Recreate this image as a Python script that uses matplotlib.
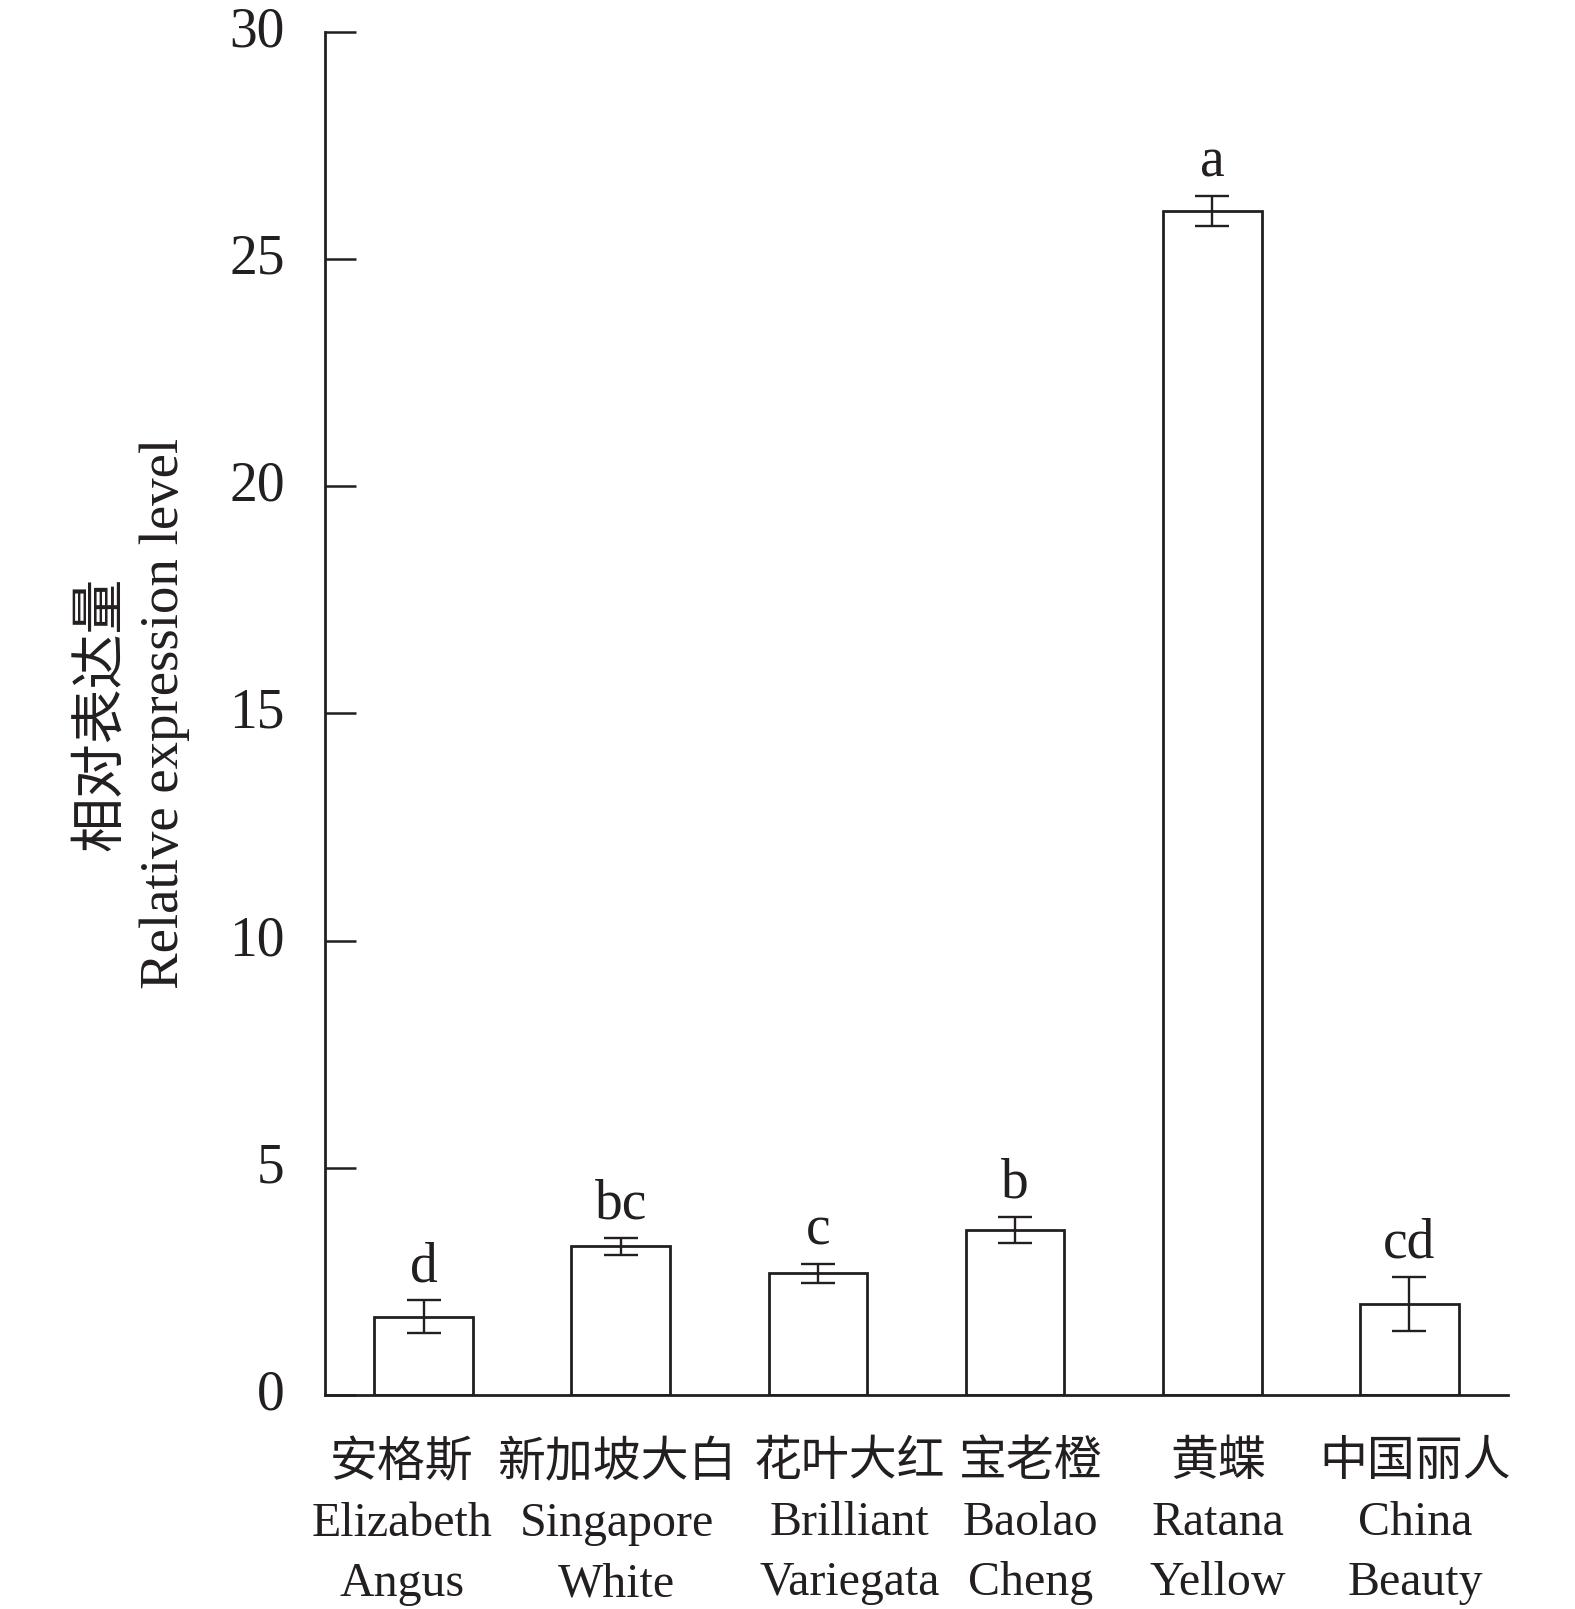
import numpy as np
import matplotlib
matplotlib.use("Agg")
import matplotlib.pyplot as plt
from matplotlib.transforms import ScaledTranslation

plt.rcParams['font.family'] = ['Liberation Serif', 'Noto Sans CJK SC', 'DejaVu Sans']

cultivars_cn = ['安格斯', '新加坡大白', '花叶大红', '宝老橙', '黄蝶', '中国丽人']
cultivars_en = ['Elizabeth\nAngus', 'Singapore\nWhite', 'Brilliant\nVariegata',
                'Baolao\nCheng', 'Ratana\nYellow', 'China\nBeauty']
expression = [1.72, 3.27, 2.68, 3.63, 26.06, 2.00]
errors = [0.36, 0.18, 0.21, 0.28, 0.33, 0.59]
letters = ['d', 'bc', 'c', 'b', 'a', 'cd']

# small horizontal nudges of the category labels (data units), as in the original
label_shift = [-0.11, -0.02, 0.16, 0.08, 0.03, 0.03]

ink = '#231f20'

fig = plt.figure(figsize=(15.75, 16.09), dpi=100)
ax = fig.add_axes([0.2063, 0.133, 0.7512, 0.8473])

x = np.arange(len(expression))
ax.bar(x, expression, width=0.5, color='white', edgecolor=ink, linewidth=2.0,
       yerr=errors, capsize=12, error_kw=dict(ecolor=ink, elinewidth=1.7, capthick=1.7))

for xi, m, e, lab in zip(x, expression, errors, letters):
    ax.annotate(lab, xy=(xi, m + e), xytext=(0, 14), textcoords='offset points',
                ha='center', va='baseline', fontsize=40, color=ink)

for xi, cn, en, dx in zip(x, cultivars_cn, cultivars_en, label_shift):
    ax.annotate(cn + '\n' + en, xy=(xi + dx, 0), xytext=(0, -33),
                textcoords='offset points', ha='center', va='top',
                multialignment='center', fontsize=34.5, color=ink, linespacing=1.47)

ax.set_xlim(-0.5, 5.5)
ax.set_ylim(0, 30)
ax.set_yticks([0, 5, 10, 15, 20, 25, 30])
ax.set_xticks([])
ax.tick_params(axis='y', direction='in', length=22, width=1.8, pad=29,
               labelsize=40, colors=ink)

# the original's tick numbers sit a little above their ticks
lift = ScaledTranslation(0, 4 / 72, fig.dpi_scale_trans)
for label in ax.yaxis.get_majorticklabels():
    label.set_transform(label.get_transform() + lift)

for side in ['top', 'right']:
    ax.spines[side].set_visible(False)
for side in ['left', 'bottom']:
    ax.spines[side].set_linewidth(2.0)
    ax.spines[side].set_color(ink)

ax.set_ylabel('相对表达量\nRelative expression level', fontsize=39.5, color=ink,
              labelpad=28, linespacing=1.3)

fig.savefig('out.png', dpi=100)
